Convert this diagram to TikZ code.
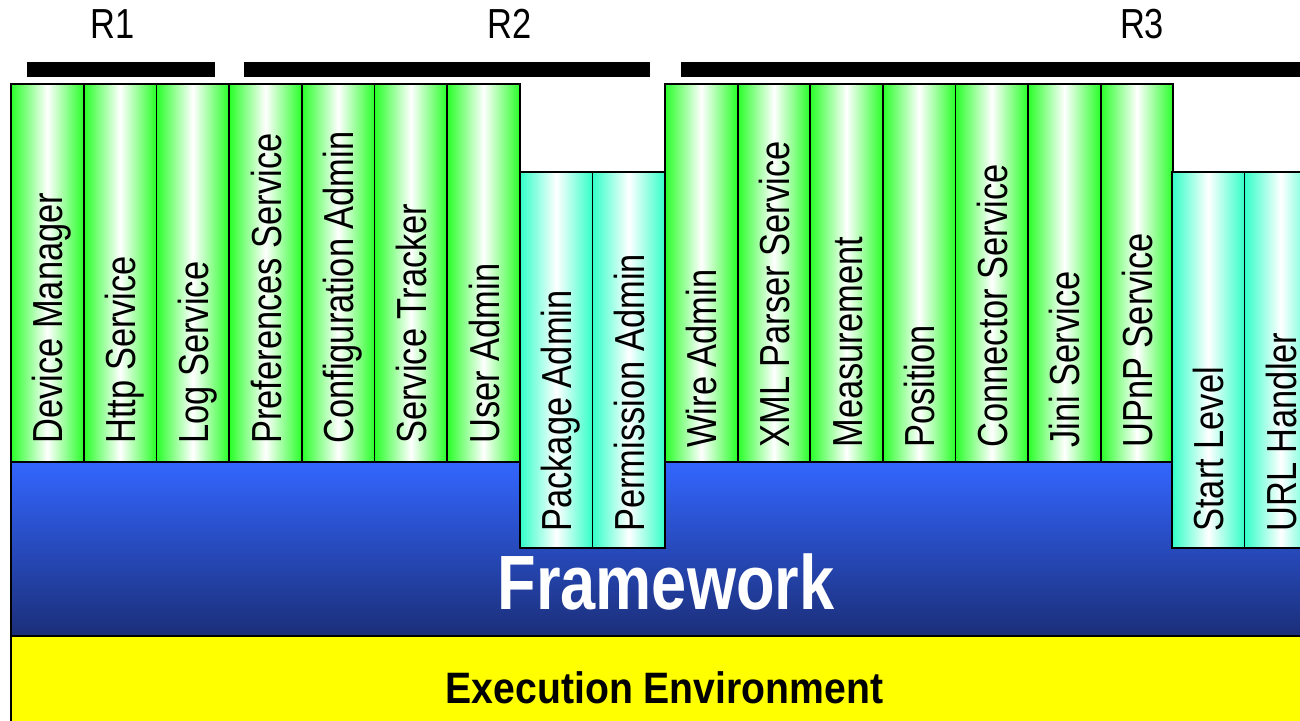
\documentclass[tikz,border=0pt]{standalone}
\usepackage{fontspec}
\newfontfamily\narrow{Liberation Sans}[FakeStretch=0.82]
\newfontfamily\exenv{Liberation Sans}[FakeStretch=0.89]
\definecolor{gr}{RGB}{40,255,40}
\definecolor{tl}{RGB}{50,255,200}
\definecolor{fwtop}{RGB}{51,102,255}
\definecolor{fwbot}{RGB}{27,46,120}
\definecolor{envyel}{RGB}{255,255,0}
\tikzset{
  colbox/.style={draw=black,line width=0.9pt,left color=#1,right color=#1,middle color=white},
  lbl/.style={rotate=90,anchor=base west,inner sep=0pt,text depth=0pt,font=\narrow\fontsize{21}{24}\selectfont},
  rlbl/.style={anchor=base,inner sep=0pt,font=\narrow\fontsize{21}{24}\selectfont},
  rbar/.style={fill=black},
}
\begin{document}
\begin{tikzpicture}[x=0.5pt,y=0.5pt]
\useasboundingbox (0,0) rectangle (1300,-721);
\clip (0,0) rectangle (1300,-721);
% release bars and labels
\fill[rbar] (27,-62) rectangle (215,-77);
\fill[rbar] (244,-62) rectangle (650,-77);
\fill[rbar] (681,-62) rectangle (1310,-77);
\node[rlbl] (r1) at (113,-39) {R1};
\node[rlbl] (r2) at (510,-39) {R2};
\node[rlbl] (r3) at (1142,-39) {R3};
% framework
\shade[top color=fwtop,bottom color=fwbot] (11,-462) rectangle (1320,-636);
\draw[line width=0.9pt] (11,-462) -- (11,-636);
\node[anchor=base,inner sep=0pt,text=white,font=\narrow\bfseries\fontsize{38.5}{40}\selectfont] (fw) at (666,-609) {Framework};
% execution environment
\fill[envyel] (11,-636) rectangle (1320,-730);
\draw[line width=1.2pt] (11,-730) -- (11,-636) -- (1320,-636);
\node[anchor=base,inner sep=0pt,font=\exenv\bfseries\fontsize{22}{24}\selectfont] (ee) at (664.5,-703) {Execution Environment};
% green group 1
\foreach \t [count=\i from 0] in {Device Manager,Http Service,Log Service,Preferences Service,Configuration Admin,Service Tracker,User Admin} {
  \pgfmathsetmacro\xa{11+\i*72.7}
  \path[colbox=gr] (\xa,-84) rectangle ++(72.7,-378);
  \node[lbl] (ga\i) at (\xa+51.95,-444) {\t};
}
% teal group 1
\foreach \t [count=\i from 0] in {Package Admin,Permission Admin} {
  \pgfmathsetmacro\xa{520+\i*72.5}
  \path[colbox=tl] (\xa,-172) rectangle ++(72.5,-376);
  \node[lbl] (ta\i) at (\xa+51.85,-532) {\t};
}
% green group 2
\foreach \t [count=\i from 0] in {Wire Admin,XML Parser Service,Measurement,Position,Connector Service,Jini Service,UPnP Service} {
  \pgfmathsetmacro\xa{665+\i*72.6}
  \path[colbox=gr] (\xa,-84) rectangle ++(72.6,-378);
  \node[lbl] (gb\i) at (\xa+51.9,-448) {\t};
}
% teal group 2
\foreach \t [count=\i from 0] in {Start Level,URL Handler} {
  \pgfmathsetmacro\xa{1172+\i*72.5}
  \path[colbox=tl] (\xa,-172) rectangle ++(72.5,-376);
  \node[lbl] (tb\i) at (\xa+51.85,-532) {\t};
}
\end{tikzpicture}
\end{document}
